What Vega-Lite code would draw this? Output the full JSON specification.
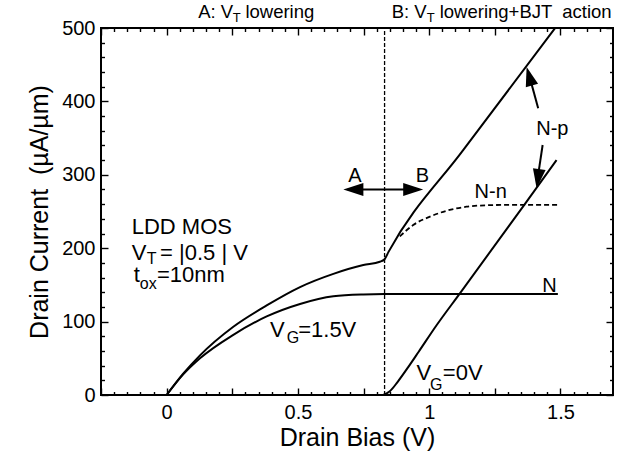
{
  "$schema": "https://vega.github.io/schema/vega-lite/v6.json",
  "width": 512,
  "height": 367,
  "autosize": {"type": "none"},
  "padding": {"left": 101, "top": 28, "right": 4, "bottom": 62},
  "background": "white",
  "config": {
    "view": {"stroke": "black", "strokeWidth": 2},
    "font": "Liberation Sans",
    "axis": {"grid": false, "domain": false, "labelColor": "black", "titleColor": "black", "tickColor": "black", "labelFont": "Liberation Sans", "titleFont": "Liberation Sans", "titleFontWeight": "normal", "tickWidth": 1.4}
  },
  "datasets": {
    "curves": [
      {"curve": "VG15_Np", "x": 0, "y": 0},
      {"curve": "VG15_Np", "x": 0.063, "y": 29},
      {"curve": "VG15_Np", "x": 0.127, "y": 54},
      {"curve": "VG15_Np", "x": 0.254, "y": 93},
      {"curve": "VG15_Np", "x": 0.381, "y": 122},
      {"curve": "VG15_Np", "x": 0.508, "y": 147},
      {"curve": "VG15_Np", "x": 0.635, "y": 165},
      {"curve": "VG15_Np", "x": 0.749, "y": 177},
      {"curve": "VG15_Np", "x": 0.812, "y": 181.5},
      {"curve": "VG15_Np", "x": 0.83, "y": 185},
      {"curve": "VG15_Np", "x": 0.845, "y": 195},
      {"curve": "VG15_Np", "x": 1.13, "y": 334},
      {"curve": "VG15_Np", "x": 1.48, "y": 500},
      {"curve": "VG15_N", "x": 0, "y": 0},
      {"curve": "VG15_N", "x": 0.063, "y": 28},
      {"curve": "VG15_N", "x": 0.127, "y": 50},
      {"curve": "VG15_N", "x": 0.254, "y": 82},
      {"curve": "VG15_N", "x": 0.381, "y": 107},
      {"curve": "VG15_N", "x": 0.508, "y": 124},
      {"curve": "VG15_N", "x": 0.635, "y": 134.5},
      {"curve": "VG15_N", "x": 0.749, "y": 137},
      {"curve": "VG15_N", "x": 0.83, "y": 137.5},
      {"curve": "VG15_N", "x": 1.49, "y": 137.5},
      {"curve": "VG0", "x": 0.825, "y": 0},
      {"curve": "VG0", "x": 0.85, "y": 5},
      {"curve": "VG0", "x": 0.88, "y": 18},
      {"curve": "VG0", "x": 0.92, "y": 38},
      {"curve": "VG0", "x": 0.96, "y": 59},
      {"curve": "VG0", "x": 1.028, "y": 95},
      {"curve": "VG0", "x": 1.117, "y": 138.5},
      {"curve": "VG0", "x": 1.358, "y": 257},
      {"curve": "VG0", "x": 1.485, "y": 320},
      {"curve": "Nn", "x": 0.888, "y": 216},
      {"curve": "Nn", "x": 0.939, "y": 231.6},
      {"curve": "Nn", "x": 1.003, "y": 243},
      {"curve": "Nn", "x": 1.066, "y": 251},
      {"curve": "Nn", "x": 1.142, "y": 256.5},
      {"curve": "Nn", "x": 1.219, "y": 258.5},
      {"curve": "Nn", "x": 1.3, "y": 259},
      {"curve": "Nn", "x": 1.49, "y": 259}
    ],
    "vline": [{"x": 0.83, "y": 0, "y2": 500}],
    "shafts": [
      {"x": 1.415, "y": 390.6, "x2": 1.385, "y2": 430},
      {"x": 1.432, "y": 340.6, "x2": 1.415, "y2": 300},
      {"x": 0.69, "y": 280, "x2": 0.96, "y2": 280}
    ],
    "heads": [
      {"head": "left", "x": 0.673, "y": 280},
      {"head": "right", "x": 0.977, "y": 280},
      {"head": "up", "x": 1.371, "y": 447},
      {"head": "down", "x": 1.409, "y": 281.6}
    ],
    "labels": [
      {"group": "top", "t": "A: V", "x": 0.12, "y": 513.6},
      {"group": "top", "t": "lowering", "x": 0.3, "y": 513.6},
      {"group": "top", "t": "B: V", "x": 0.857, "y": 513.6},
      {"group": "top", "t": "lowering+BJT \u00a0action", "x": 1.04, "y": 513.6},
      {"group": "topsub", "t": "T", "x": 0.252, "y": 508},
      {"group": "topsub", "t": "T", "x": 0.991, "y": 508},
      {"group": "big", "t": "LDD MOS", "x": -0.133, "y": 219},
      {"group": "big", "t": "V", "x": -0.133, "y": 184},
      {"group": "big", "t": "= |0.5 | V", "x": -0.025, "y": 184},
      {"group": "big", "t": "t", "x": -0.125, "y": 154},
      {"group": "big", "t": "=10nm", "x": -0.037, "y": 154},
      {"group": "big", "t": "V", "x": 0.394, "y": 79},
      {"group": "big", "t": "=1.5V", "x": 0.501, "y": 79},
      {"group": "big", "t": "V", "x": 0.952, "y": 20.4},
      {"group": "big", "t": "=0V", "x": 1.052, "y": 20.4},
      {"group": "bigsub", "t": "T", "x": -0.076, "y": 178},
      {"group": "bigsub", "t": "ox", "x": -0.102, "y": 144},
      {"group": "bigsub", "t": "G", "x": 0.457, "y": 70.4},
      {"group": "bigsub", "t": "G", "x": 1.003, "y": 6.8},
      {"group": "mid", "t": "N", "x": 1.458, "y": 140.7},
      {"group": "mid", "t": "N-n", "x": 1.234, "y": 268},
      {"group": "mid", "t": "N-p", "x": 1.469, "y": 354},
      {"group": "mid", "t": "A", "x": 0.717, "y": 290.6},
      {"group": "mid", "t": "B", "x": 0.974, "y": 290.6}
    ]
  },
  "resolve": {"axis": {"x": "independent", "y": "independent"}},
  "layer": [
    {
      "data": {"name": "curves"},
      "transform": [{"filter": "datum.curve != 'Nn'"}],
      "mark": {"type": "line", "color": "black", "strokeWidth": 2, "interpolate": "monotone"},
      "encoding": {
        "x": {"field": "x", "type": "quantitative", "scale": {"domain": [-0.25, 1.7], "nice": false, "zero": false},
          "axis": {"orient": "bottom", "values": [-0.25, 0, 0.25, 0.5, 0.75, 1, 1.25, 1.5], "tickSize": -7, "labelPadding": 14, "labelFontSize": 20, "labelFlush": false,
            "labelExpr": "datum.value == 0 ? '0' : datum.value == 0.5 ? '0.5' : datum.value == 1 ? '1' : datum.value == 1.5 ? '1.5' : ''",
            "title": "Drain Bias (V)", "titleFontSize": 25, "titlePadding": 3}},
        "y": {"field": "y", "type": "quantitative", "scale": {"domain": [0, 500], "nice": false, "zero": false},
          "axis": {"orient": "left", "values": [0, 100, 200, 300, 400, 500], "tickSize": -7, "labelPadding": 13, "labelFontSize": 20, "labelFlush": false,
            "title": "Drain Current \u00a0(µA/µm)", "titleFontSize": 25, "titlePadding": 9}},
        "detail": {"field": "curve"}
      }
    },
    {
      "data": {"name": "curves"},
      "transform": [{"filter": "datum.curve == 'Nn'"}],
      "mark": {"type": "line", "color": "black", "strokeWidth": 1.8, "strokeDash": [5, 3], "interpolate": "monotone"},
      "encoding": {
        "x": {"field": "x", "type": "quantitative", "scale": {"domain": [-0.25, 1.7], "nice": false, "zero": false},
          "axis": {"orient": "top", "values": [-0.25, 0, 0.25, 0.5, 0.75, 1, 1.25, 1.5], "tickSize": -7, "labels": false, "title": null}},
        "y": {"field": "y", "type": "quantitative", "scale": {"domain": [0, 500], "nice": false, "zero": false},
          "axis": {"orient": "right", "values": [0, 100, 200, 300, 400, 500], "tickSize": -7, "labels": false, "title": null}}
      }
    },
    {
      "data": {"name": "vline"},
      "mark": {"type": "rule", "color": "black", "strokeWidth": 1.3, "strokeDash": [4, 2]},
      "encoding": {
        "x": {"field": "x", "type": "quantitative", "scale": {"domain": [-0.25, 1.7], "nice": false, "zero": false},
          "axis": {"orient": "bottom", "values": [-0.2, -0.15, -0.1, -0.05, 0.05, 0.1, 0.15, 0.2, 0.3, 0.35, 0.4, 0.45, 0.55, 0.6, 0.65, 0.7, 0.8, 0.85, 0.9, 0.95, 1.05, 1.1, 1.15, 1.2, 1.3, 1.35, 1.4, 1.45, 1.55, 1.6, 1.65], "tickSize": -3.5, "labels": false, "title": null}},
        "y": {"field": "y", "type": "quantitative", "scale": {"domain": [0, 500], "nice": false, "zero": false},
          "axis": {"orient": "left", "values": [20, 40, 60, 80, 120, 140, 160, 180, 220, 240, 260, 280, 320, 340, 360, 380, 420, 440, 460, 480], "tickSize": -3.5, "labels": false, "title": null}},
        "y2": {"field": "y2"}
      }
    },
    {
      "data": {"name": "shafts"},
      "mark": {"type": "rule", "color": "black", "strokeWidth": 2},
      "encoding": {
        "x": {"field": "x", "type": "quantitative", "scale": {"domain": [-0.25, 1.7], "nice": false, "zero": false},
          "axis": {"orient": "top", "values": [-0.2, -0.15, -0.1, -0.05, 0.05, 0.1, 0.15, 0.2, 0.3, 0.35, 0.4, 0.45, 0.55, 0.6, 0.65, 0.7, 0.8, 0.85, 0.9, 0.95, 1.05, 1.1, 1.15, 1.2, 1.3, 1.35, 1.4, 1.45, 1.55, 1.6, 1.65], "tickSize": -3.5, "labels": false, "title": null}},
        "y": {"field": "y", "type": "quantitative", "scale": {"domain": [0, 500], "nice": false, "zero": false},
          "axis": {"orient": "right", "values": [20, 40, 60, 80, 120, 140, 160, 180, 220, 240, 260, 280, 320, 340, 360, 380, 420, 440, 460, 480], "tickSize": -3.5, "labels": false, "title": null}},
        "x2": {"field": "x2"},
        "y2": {"field": "y2"}
      }
    },
    {
      "data": {"name": "heads"},
      "transform": [{"filter": "datum.head == 'left'"}],
      "mark": {"type": "point", "shape": "M 0 0 L 0.33 1 L -0.33 1 Z", "size": 1600, "angle": 270, "filled": true, "color": "black", "opacity": 1},
      "encoding": {
        "x": {"field": "x", "type": "quantitative", "scale": {"domain": [-0.25, 1.7], "nice": false, "zero": false}, "axis": null},
        "y": {"field": "y", "type": "quantitative", "scale": {"domain": [0, 500], "nice": false, "zero": false}, "axis": null}
      }
    },
    {
      "data": {"name": "heads"},
      "transform": [{"filter": "datum.head == 'right'"}],
      "mark": {"type": "point", "shape": "M 0 0 L 0.33 1 L -0.33 1 Z", "size": 1600, "angle": 90, "filled": true, "color": "black", "opacity": 1},
      "encoding": {
        "x": {"field": "x", "type": "quantitative", "scale": {"domain": [-0.25, 1.7], "nice": false, "zero": false}, "axis": null},
        "y": {"field": "y", "type": "quantitative", "scale": {"domain": [0, 500], "nice": false, "zero": false}, "axis": null}
      }
    },
    {
      "data": {"name": "heads"},
      "transform": [{"filter": "datum.head == 'up'"}],
      "mark": {"type": "point", "shape": "M 0 0 L 0.33 1 L -0.33 1 Z", "size": 1500, "angle": 344, "filled": true, "color": "black", "opacity": 1},
      "encoding": {
        "x": {"field": "x", "type": "quantitative", "scale": {"domain": [-0.25, 1.7], "nice": false, "zero": false}, "axis": null},
        "y": {"field": "y", "type": "quantitative", "scale": {"domain": [0, 500], "nice": false, "zero": false}, "axis": null}
      }
    },
    {
      "data": {"name": "heads"},
      "transform": [{"filter": "datum.head == 'down'"}],
      "mark": {"type": "point", "shape": "M 0 0 L 0.33 1 L -0.33 1 Z", "size": 1500, "angle": 188, "filled": true, "color": "black", "opacity": 1},
      "encoding": {
        "x": {"field": "x", "type": "quantitative", "scale": {"domain": [-0.25, 1.7], "nice": false, "zero": false}, "axis": null},
        "y": {"field": "y", "type": "quantitative", "scale": {"domain": [0, 500], "nice": false, "zero": false}, "axis": null}
      }
    },
    {
      "data": {"name": "labels"},
      "transform": [{"filter": "datum.group == 'top'"}],
      "mark": {"type": "text", "align": "left", "baseline": "alphabetic", "fontSize": 18.5, "font": "Liberation Sans", "color": "black"},
      "encoding": {
        "x": {"field": "x", "type": "quantitative", "scale": {"domain": [-0.25, 1.7], "nice": false, "zero": false}, "axis": null},
        "y": {"field": "y", "type": "quantitative", "scale": {"domain": [0, 500], "nice": false, "zero": false}, "axis": null},
        "text": {"field": "t"}
      }
    },
    {
      "data": {"name": "labels"},
      "transform": [{"filter": "datum.group == 'topsub'"}],
      "mark": {"type": "text", "align": "left", "baseline": "alphabetic", "fontSize": 13, "font": "Liberation Sans", "color": "black"},
      "encoding": {
        "x": {"field": "x", "type": "quantitative", "scale": {"domain": [-0.25, 1.7], "nice": false, "zero": false}, "axis": null},
        "y": {"field": "y", "type": "quantitative", "scale": {"domain": [0, 500], "nice": false, "zero": false}, "axis": null},
        "text": {"field": "t"}
      }
    },
    {
      "data": {"name": "labels"},
      "transform": [{"filter": "datum.group == 'big'"}],
      "mark": {"type": "text", "align": "left", "baseline": "alphabetic", "fontSize": 22, "font": "Liberation Sans", "color": "black"},
      "encoding": {
        "x": {"field": "x", "type": "quantitative", "scale": {"domain": [-0.25, 1.7], "nice": false, "zero": false}, "axis": null},
        "y": {"field": "y", "type": "quantitative", "scale": {"domain": [0, 500], "nice": false, "zero": false}, "axis": null},
        "text": {"field": "t"}
      }
    },
    {
      "data": {"name": "labels"},
      "transform": [{"filter": "datum.group == 'bigsub'"}],
      "mark": {"type": "text", "align": "left", "baseline": "alphabetic", "fontSize": 16, "font": "Liberation Sans", "color": "black"},
      "encoding": {
        "x": {"field": "x", "type": "quantitative", "scale": {"domain": [-0.25, 1.7], "nice": false, "zero": false}, "axis": null},
        "y": {"field": "y", "type": "quantitative", "scale": {"domain": [0, 500], "nice": false, "zero": false}, "axis": null},
        "text": {"field": "t"}
      }
    },
    {
      "data": {"name": "labels"},
      "transform": [{"filter": "datum.group == 'mid'"}],
      "mark": {"type": "text", "align": "center", "baseline": "alphabetic", "fontSize": 20, "font": "Liberation Sans", "color": "black"},
      "encoding": {
        "x": {"field": "x", "type": "quantitative", "scale": {"domain": [-0.25, 1.7], "nice": false, "zero": false}, "axis": null},
        "y": {"field": "y", "type": "quantitative", "scale": {"domain": [0, 500], "nice": false, "zero": false}, "axis": null},
        "text": {"field": "t"}
      }
    }
  ]
}
